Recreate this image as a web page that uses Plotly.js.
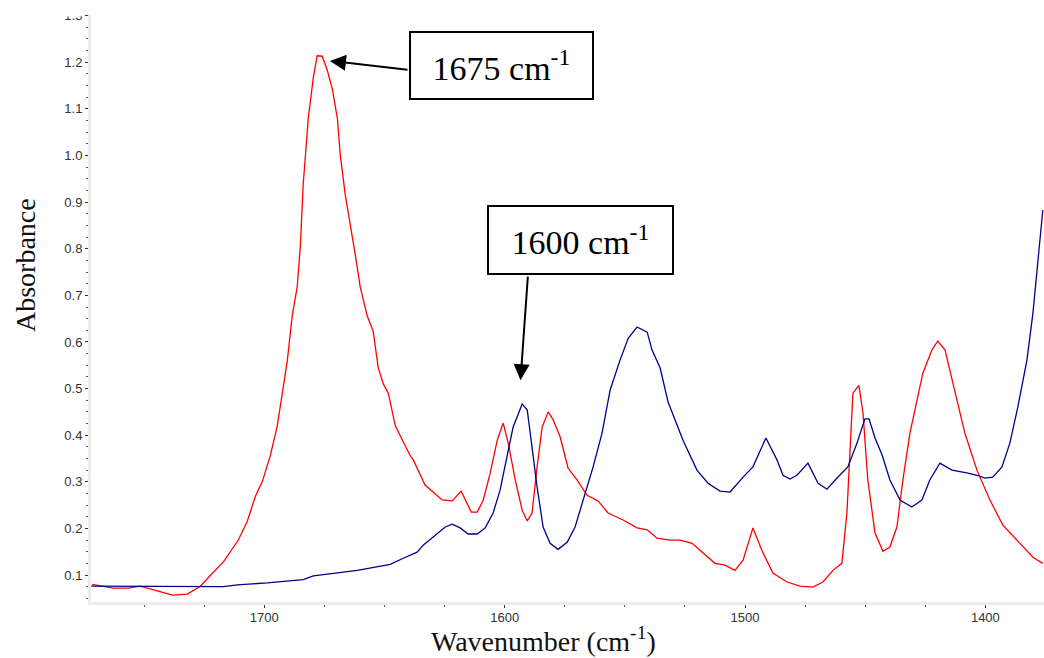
<!DOCTYPE html>
<html>
<head>
<meta charset="utf-8">
<script src="https://cdn.plot.ly/plotly-3.0.1.min.js"></script>
<style>html,body{margin:0;padding:0;background:#fff;}#chart{width:1044px;height:658px;}</style>
</head>
<body>
<div id="chart"></div>
<script>
// Red spectrum (wavenumber cm-1, absorbance)
var redWavenumber = [1771.6,1762.8,1756.5,1751.6,1744.5,1738.3,1732.0,1726.6,1722.5,1717.0,1710.8,1707.1,1703.7,1700.8,1697.5,1694.6,1692.5,1690.4,1688.4,1686.3,1685.0,1683.8,1681.7,1679.6,1678.0,1675.9,1673.8,1671.7,1669.6,1668.4,1666.3,1664.2,1662.2,1660.1,1657.2,1654.7,1652.6,1650.5,1648.4,1645.5,1642.2,1639.3,1638.0,1633.1,1626.0,1621.8,1618.1,1613.9,1611.4,1608.9,1606.0,1603.1,1600.6,1598.5,1595.6,1592.7,1590.6,1588.6,1586.5,1584.4,1581.9,1579.8,1576.9,1573.6,1569.9,1565.7,1561.1,1557.0,1550.7,1544.9,1540.7,1536.6,1531.2,1527.0,1522.0,1517.5,1512.5,1508.3,1504.2,1500.8,1496.7,1493.0,1488.4,1482.5,1477.1,1471.7,1467.6,1463.4,1459.7,1457.6,1456.3,1455.1,1452.6,1450.9,1448.9,1445.9,1442.6,1439.7,1436.8,1434.3,1431.4,1428.5,1426.0,1422.2,1419.8,1416.8,1413.5,1408.5,1403.5,1398.1,1392.7,1385.7,1380.2,1376.1];
var redAbsorbance = [0.080,0.072,0.072,0.076,0.066,0.057,0.059,0.076,0.099,0.128,0.175,0.215,0.269,0.301,0.356,0.420,0.490,0.561,0.656,0.718,0.806,0.939,1.080,1.167,1.214,1.213,1.183,1.143,1.080,1.002,0.915,0.852,0.789,0.718,0.656,0.623,0.545,0.510,0.490,0.420,0.384,0.356,0.347,0.293,0.261,0.259,0.280,0.235,0.235,0.261,0.319,0.389,0.426,0.383,0.304,0.239,0.216,0.233,0.332,0.417,0.450,0.433,0.396,0.329,0.304,0.271,0.259,0.233,0.218,0.201,0.197,0.179,0.175,0.175,0.168,0.147,0.125,0.121,0.110,0.132,0.201,0.153,0.104,0.085,0.076,0.074,0.085,0.110,0.125,0.233,0.374,0.490,0.507,0.447,0.304,0.190,0.151,0.160,0.203,0.304,0.404,0.475,0.533,0.583,0.602,0.583,0.512,0.404,0.325,0.261,0.207,0.168,0.138,0.125];

// Blue spectrum (wavenumber cm-1, absorbance)
var blueWavenumber = [1772.0,1747.4,1719.5,1717.0,1711.2,1698.8,1683.8,1679.6,1661.3,1651.8,1647.6,1642.2,1636.4,1633.9,1628.9,1624.7,1621.8,1618.5,1615.2,1611.4,1608.1,1604.8,1601.9,1598.9,1596.5,1592.7,1590.6,1588.6,1586.5,1584.0,1581.1,1577.8,1574.0,1570.7,1567.4,1563.2,1559.5,1556.1,1552.0,1548.6,1544.9,1540.7,1538.7,1535.3,1532.0,1525.8,1520.0,1515.4,1510.4,1506.2,1500.8,1496.7,1491.3,1486.7,1484.2,1481.3,1478.4,1473.8,1469.6,1465.9,1461.7,1457.2,1453.4,1450.1,1448.4,1445.9,1443.0,1439.7,1435.5,1430.6,1426.4,1423.1,1418.9,1413.9,1407.7,1403.5,1400.2,1396.9,1393.1,1389.8,1386.5,1382.7,1380.2,1378.2,1376.1];
var blueAbsorbance = [0.076,0.076,0.076,0.075,0.079,0.083,0.090,0.098,0.110,0.119,0.123,0.136,0.149,0.164,0.186,0.203,0.209,0.201,0.188,0.188,0.201,0.233,0.282,0.353,0.417,0.467,0.454,0.374,0.289,0.203,0.168,0.155,0.170,0.203,0.261,0.332,0.404,0.497,0.561,0.608,0.632,0.621,0.583,0.544,0.471,0.389,0.325,0.297,0.280,0.278,0.310,0.332,0.394,0.347,0.314,0.306,0.314,0.340,0.297,0.284,0.308,0.332,0.383,0.435,0.435,0.394,0.358,0.304,0.261,0.246,0.261,0.304,0.340,0.325,0.319,0.314,0.308,0.310,0.332,0.383,0.460,0.561,0.662,0.769,0.883];

var xTickVals = [1700, 1600, 1500, 1400];
var xTickText = ['1700', '1600', '1500', '1400'];

var labelPeak1 = '1675 cm<sup>-1</sup>';
var labelPeak2 = '1600 cm<sup>-1</sup>';

var serif = 'Liberation Serif, Times New Roman, serif';
var sans = 'Liberation Sans, Arial, sans-serif';

var traces = [
  {x: redWavenumber, y: redAbsorbance, type: 'scatter', mode: 'lines',
   line: {color: '#ff0000', width: 1.3}, hoverinfo: 'x+y'},
  {x: blueWavenumber, y: blueAbsorbance, type: 'scatter', mode: 'lines',
   line: {color: '#00008c', width: 1.3}, hoverinfo: 'x+y'}
];

var layout = {
  width: 1044, height: 658,
  margin: {l: 91, r: 0, t: 14, b: 56},
  paper_bgcolor: '#ffffff', plot_bgcolor: '#ffffff',
  showlegend: false,
  xaxis: {
    range: [1772.1, 1375.6], autorange: false,
    tickvals: xTickVals, ticktext: xTickText,
    showgrid: false, zeroline: false,
    showline: true, linecolor: '#ececec', linewidth: 3,
    ticks: 'outside', ticklen: 3, tickcolor: '#333', tickwidth: 1,
    ticklabelstandoff: -2,
    minor: {dtick: 25, tick0: 1400, ticks: 'outside', ticklen: 2, tickcolor: '#555', tickwidth: 1},
    tickfont: {family: sans, size: 13, color: '#333'}
  },
  yaxis: {
    range: [0.0421, 1.3036], autorange: false,
    dtick: 0.1, tick0: 0, tickformat: '.1f',
    showgrid: false, zeroline: false,
    showline: true, linecolor: '#ececec', linewidth: 3,
    ticks: 'outside', ticklen: 3, tickcolor: '#333', tickwidth: 1,
    minor: {dtick: 0.025, tick0: 0, ticks: 'outside', ticklen: 2, tickcolor: '#555', tickwidth: 1},
    tickfont: {family: sans, size: 13, color: '#333'}
  },
  shapes: [
    {type: 'rect', xref: 'paper', yref: 'paper', x0: -0.045, x1: -0.0068, y0: 0.9957, y1: 1.03,
     fillcolor: '#ffffff', line: {width: 0}, layer: 'above'}
  ],
  annotations: [
    {xref: 'paper', yref: 'paper', x: -0.0693, y: 0.573, text: 'Absorbance', textangle: -90,
     showarrow: false, xanchor: 'center', yanchor: 'middle',
     font: {family: serif, size: 28, color: '#111'}},
    {xref: 'paper', yref: 'paper', x: 0.4743, y: -0.0646, text: 'Wavenumber (cm<sup>-1</sup>)',
     showarrow: false, xanchor: 'center', yanchor: 'middle',
     font: {family: serif, size: 28, color: '#111'}},
    {xref: 'paper', yref: 'paper', x: 0.4307, y: 0.9124, text: labelPeak1, showarrow: false,
     xanchor: 'center', yanchor: 'middle', width: 181, height: 65,
     bordercolor: '#000', borderwidth: 2, borderpad: 0, bgcolor: '#ffffff',
     font: {family: serif, size: 34, color: '#000'}},
    {xref: 'paper', yref: 'paper', x: 0.5136, y: 0.6156, text: labelPeak2, showarrow: false,
     xanchor: 'center', yanchor: 'middle', width: 183, height: 66,
     bordercolor: '#000', borderwidth: 2, borderpad: 0, bgcolor: '#ffffff',
     font: {family: serif, size: 34, color: '#000'}},
    {xref: 'x', yref: 'y', x: 1672.7, y: 1.203, axref: 'x', ayref: 'y', ax: 1639.8, ay: 1.1835,
     text: '', showarrow: true, arrowhead: 2, arrowsize: 1.6, arrowwidth: 2, arrowcolor: '#000', standoff: 0},
    {xref: 'x', yref: 'y', x: 1593.4, y: 0.518, axref: 'x', ayref: 'y', ax: 1590.3, ay: 0.7437,
     text: '', showarrow: true, arrowhead: 2, arrowsize: 1.6, arrowwidth: 2, arrowcolor: '#000', standoff: 0}
  ]
};

Plotly.newPlot('chart', traces, layout, {displayModeBar: false, staticPlot: true});
</script>
</body>
</html>
